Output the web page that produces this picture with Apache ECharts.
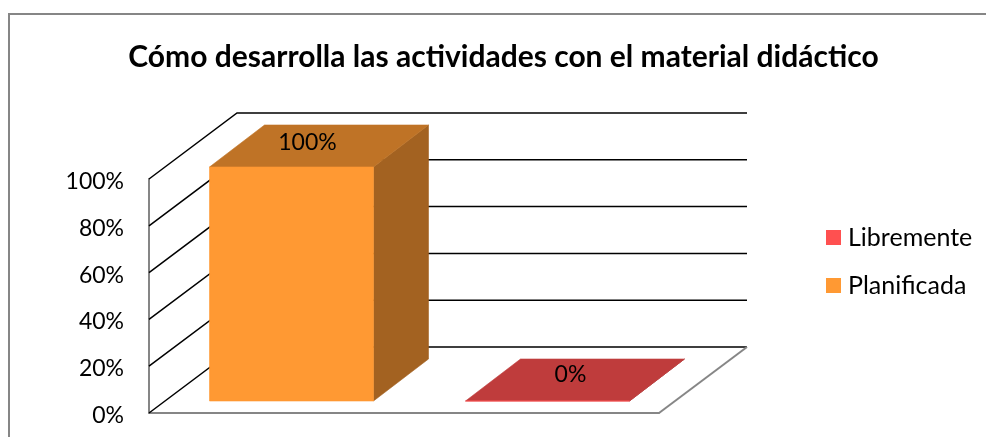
<!DOCTYPE html>
<html>
<head>
<meta charset="utf-8">
<style>html,body{margin:0;padding:0;background:#fff;overflow:hidden}#c{width:986px;height:437px}</style>
<script src="https://cdn.jsdelivr.net/npm/echarts@6/dist/echarts.min.js"></script>
</head>
<body>
<div id="c"></div>
<script>
const titleText = 'Cómo desarrolla las actividades con el material didáctico';
const categories = ['Planificada', 'Libremente'];
const planificada = [100, null];
const libremente = [null, 0];
const yTicks = [0, 20, 40, 60, 80, 100];

const FONT = 'Lato, "Open Sans", sans-serif';
const WALL = [88, -66];       // full depth of the 3D box
const GAP = [16, -12];        // bar inset from the front plane
const BAR = [55, -42];        // bar depth
const BAR_FRACTION = 0.643;
const LABEL_DY = { Planificada: -24, Libremente: -26 };

function poly(points, fill) {
  return { type: 'polygon', shape: { points }, style: { fill, stroke: fill, lineWidth: 0.6 } };
}
function shade(hex, k) {
  const n = parseInt(hex.slice(1), 16);
  const f = s => Math.round(((n >> s) & 255) * k);
  return `rgb(${f(16)},${f(8)},${f(0)})`;
}
function barSeries(name, values, color, labelDx) {
  return {
    name, type: 'custom', coordinateSystem: 'cartesian2d', z: 5,
    itemStyle: { color },
    encode: { x: 0, y: 1 },
    data: values.map((v, i) => [i, v]).filter(d => d[1] !== null),
    renderItem(params, api) {
      const top = api.coord([api.value(0), api.value(1)]);
      const base = api.coord([api.value(0), 0]);
      const w = api.size([1, 0])[0] * BAR_FRACTION;
      const x0 = top[0] - w / 2 + GAP[0] - labelDx.shift, x1 = x0 + w;
      const yt = top[1] + GAP[1], yb = base[1] + GAP[1];
      const [dx, dy] = BAR;
      return {
        type: 'group',
        children: [
          poly([[x1, yt], [x1 + dx, yt + dy], [x1 + dx, yb + dy], [x1, yb]], shade(color, 0.64)),
          poly([[x0, yt], [x1, yt], [x1 + dx, yt + dy], [x0 + dx, yt + dy]], shade(color, 0.75)),
          poly([[x0, yt], [x1, yt], [x1, yb], [x0, yb]], color),
          { type: 'text', z2: 10, style: {
              text: api.value(1) + '%', x: (x0 + x1) / 2 + labelDx.label, y: yt + LABEL_DY[name],
              fill: '#000', font: '23px ' + FONT, align: 'center', verticalAlign: 'middle' } }
        ]
      };
    }
  };
}

const chart = echarts.init(document.getElementById('c'), null, { renderer: 'canvas' });
chart.setOption({
  animation: false,
  backgroundColor: '#fff',
  title: {
    text: titleText, left: 498.5, top: 37, textAlign: 'center',
    textStyle: { fontFamily: FONT, fontWeight: 'bold', fontSize: 30, color: '#000' }
  },
  legend: {
    orient: 'vertical', left: 821, top: 220, itemWidth: 15, itemHeight: 15, itemGap: 23,
    icon: 'rect', selectedMode: false,
    data: ['Libremente', 'Planificada'],
    textStyle: { fontFamily: FONT, fontSize: 25, color: '#000', padding: [0, 0, 0, 2] }
  },
  grid: { left: 149, top: 179, width: 510, height: 234 },
  xAxis: {
    type: 'category', data: categories,
    axisLine: { lineStyle: { color: '#868686', width: 2 } },
    axisTick: { show: false }, axisLabel: { show: false }, splitLine: { show: false }
  },
  yAxis: {
    type: 'value', min: 0, max: 100, interval: 20,
    axisLine: { show: true, lineStyle: { color: '#868686', width: 2 } },
    axisTick: { show: false }, splitLine: { show: false },
    axisLabel: { formatter: '{value}%', margin: 25, color: '#000', fontFamily: FONT, fontSize: 23, verticalAlign: 'top', lineHeight: 5 }
  },
  graphic: [{
    type: 'rect', silent: true, z: -10,
    shape: { x: 9, y: 14, width: 1100, height: 600 },
    style: { fill: null, stroke: '#868686', lineWidth: 2 }
  }],
  series: [
    {
      name: 'walls', type: 'custom', coordinateSystem: 'cartesian2d', z: 1, silent: true,
      encode: { x: 0, y: 1 },
      data: yTicks.map(v => [0, v]),
      renderItem(params, api) {
        const cs = params.coordSys;
        const y = api.coord([0, api.value(1)])[1];
        const left = cs.x, right = cs.x + cs.width;
        const [dx, dy] = WALL;
        const black = { stroke: '#000', lineWidth: 1.5, fill: null };
        const children = [
          { type: 'polyline', shape: { points: [[left, y], [left + dx, y + dy], [right + dx, y + dy]] }, style: black }
        ];
        if (api.value(1) === 0) {
          children.push({ type: 'polyline', shape: { points: [[right, y], [right + dx, y + dy]] },
            style: { stroke: '#868686', lineWidth: 2, fill: null } });
        }
        return { type: 'group', children };
      }
    },
    barSeries('Libremente', libremente, '#FF5050', { shift: 0, label: 23 }),
    barSeries('Planificada', planificada, '#FF9933', { shift: 1, label: 16 })
  ]
});
</script>
</body>
</html>
